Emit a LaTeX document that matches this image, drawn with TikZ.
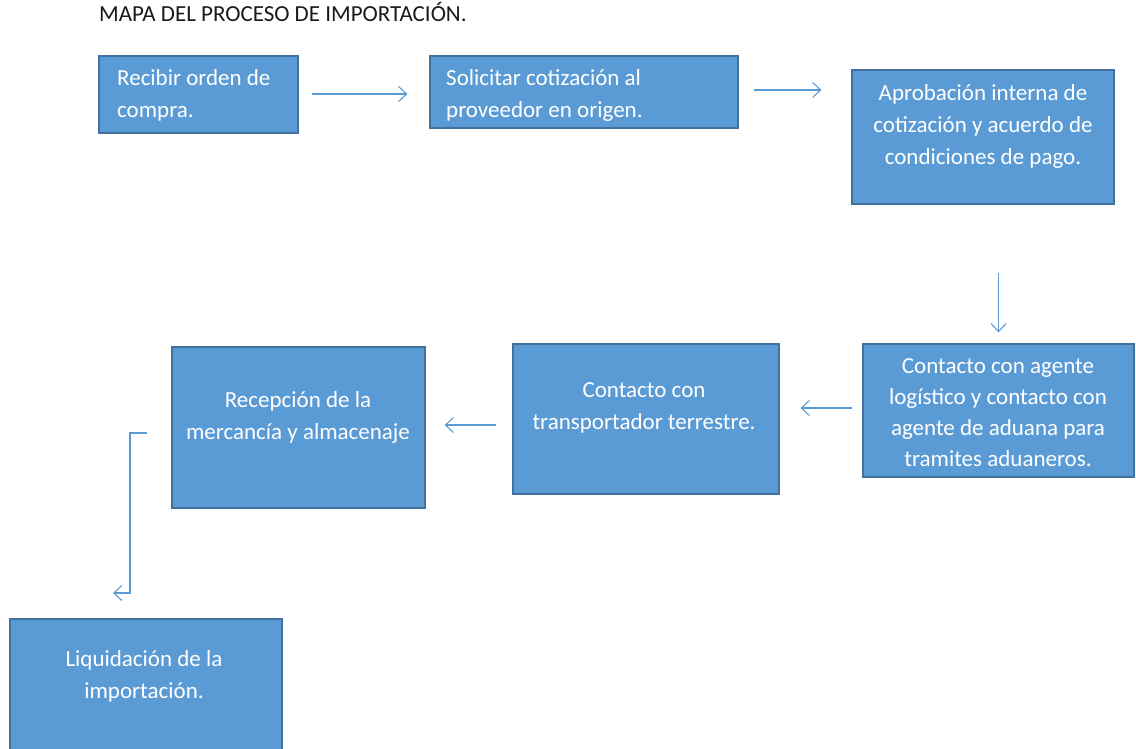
\documentclass[tikz,border=0pt]{standalone}
\usepackage{fontspec}
\setmainfont{Carlito}
\usetikzlibrary{arrows.meta}
\definecolor{boxblue}{HTML}{5B9BD5}
\definecolor{boxline}{HTML}{41719C}
\definecolor{titlegray}{HTML}{1A1A1A}
\begin{document}
\begin{tikzpicture}[x=1pt,y=-1pt]
\tikzset{stepbox/.style = {shape=rectangle,draw=boxline,fill=boxblue,line width=1.2pt,inner sep=0pt},
         steptext/.style = {inner sep=0pt,text=white,font=\fontsize{23}{32}\selectfont},
         link/.style = {draw=boxblue,line width=1.1pt,-{Straight Barb[length=8pt,width=15pt]}}}
\useasboundingbox (0,0) rectangle (1136,749);
% title
\node[anchor=base west,inner sep=0pt,text=titlegray,font=\fontsize{23}{26}\selectfont] (title) at (99,22) {MAPA DEL PROCESO DE IMPORTACIÓN.};
% boxes
\foreach \name/\x/\y/\w/\h in {orden/198.5/94.5/199/77, cotiza/584/92/308/72, aprueba/983/137/262/134,
                               agente/998.5/410.5/271/133, transporte/646/419/266/150,
                               recepcion/298.5/427.5/253/161, liquida/146/687/272/136} {
    \node[stepbox,minimum width=\w pt,minimum height=\h pt] (\name) at (\x,\y) {};
}
% texts
\node[steptext,anchor=north west,align=left] (ordentxt) at (117,69) {Recibir orden de\\compra.};
\node[steptext,anchor=north west,align=left] (cotizatxt) at (446,69) {Solicitar cotización al\\proveedor en origen.};
\node[steptext,anchor=north,align=center] (apruebatxt) at (983,84) {Aprobación interna de\\cotización y acuerdo de\\condiciones de pago.};
\node[steptext,anchor=north,align=center,font=\fontsize{23}{31}\selectfont] (agentetxt) at (998,358) {Contacto con agente\\logístico y contacto con\\agente de aduana para\\tramites aduaneros.};
\node[steptext,anchor=north,align=center] (transportetxt) at (644,382) {Contacto con\\transportador terrestre.};
\node[steptext,anchor=north,align=center] (recepciontxt) at (298,391) {Recepción de la\\mercancía y almacenaje};
\node[steptext,anchor=north,align=center] (liquidatxt) at (144,650) {Liquidación de la\\importación.};
% edges
\draw[link,shorten <=13pt,shorten >=22pt] ([yshift=0.5pt]orden.east) -- ([yshift=0.5pt]orden.east -| cotiza.west);
\draw[link,shorten <=15pt,shorten >=30pt] ([yshift=2pt]cotiza.east) -- ([yshift=2pt]cotiza.east -| aprueba.west);
\draw[link,shorten <=68pt,shorten >=11pt] (aprueba.south -| agente.north) -- (agente.north);
\draw[link,shorten <=10pt,shorten >=21pt] ([yshift=2.5pt]agente.west) -- ([yshift=2.5pt]agente.west -| transporte.east);
\draw[link,shorten <=16pt,shorten >=19pt] ([yshift=-6pt]transporte.west) -- ([yshift=-6pt]transporte.west -| recepcion.east);
\coordinate (bend) at (130,593);
\coordinate (liquidaend) at (113,593);
\draw[link,shorten <=24pt] ([yshift=-5.5pt]recepcion.west) -| (bend) -- (liquidaend);
\end{tikzpicture}
\end{document}
